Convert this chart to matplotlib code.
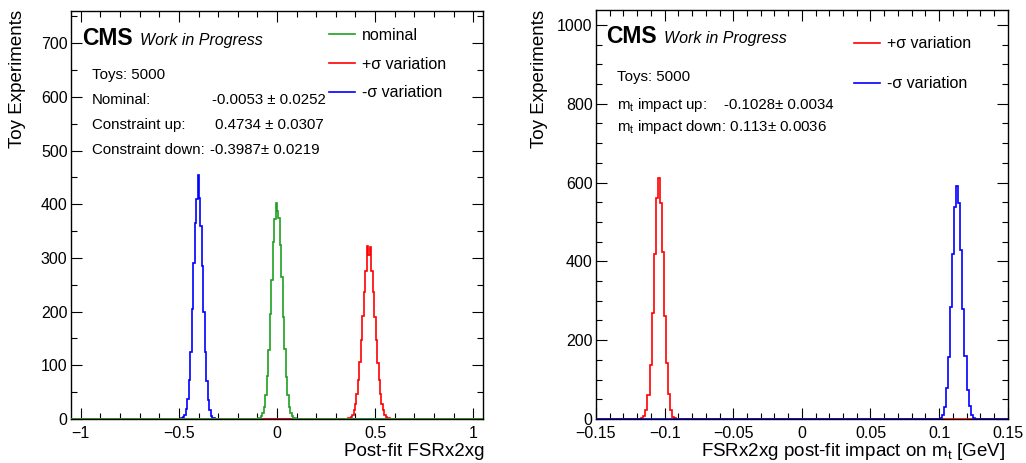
import numpy as np
import matplotlib
matplotlib.use("Agg")
import matplotlib.pyplot as plt
from matplotlib.lines import Line2D

plt.rcParams['font.family'] = ['Liberation Sans', 'DejaVu Sans']
plt.rcParams['mathtext.default'] = 'regular'

# ---------------- left panel: post-fit value of the FSRx2xg parameter ----------------
pull_range = (-1.05, 1.05)
pull_bin_width = 0.0075
pull_ticks = [-1, -0.5, 0, 0.5, 1]
pull_tick_labels = ["\u22121", "\u22120.5", "0", "0.5", "1"]
pull_yticks = [0, 100, 200, 300, 400, 500, 600, 700]
pull_ymax = 760

nominal_start = -0.0975
nominal_counts = [1, 2, 5, 11, 22, 45, 80, 128, 195, 258, 330, 372, 402, 388,
                  375, 325, 265, 190, 130, 78, 44, 22, 11, 5, 2, 1]
up_start = 0.36
up_counts = [1, 2, 4, 8, 16, 28, 46, 72, 106, 147, 192, 237, 275, 322, 305,
             320, 275, 237, 190, 148, 104, 72, 46, 28, 16, 8, 4, 2, 1]
down_start = -0.4875
down_counts = [1, 3, 7, 18, 38, 72, 125, 205, 290, 365, 410, 455, 412, 360,
               285, 200, 125, 70, 36, 16, 6, 2, 1]

pull_summary = [("Nominal:", "-0.0053 \u00b1 0.0252"),
                ("Constraint up:", "0.4734 \u00b1 0.0307"),
                ("Constraint down:", "-0.3987\u00b1 0.0219")]

# ---------------- right panel: impact on the top mass ----------------
impact_range = (-0.15, 0.15)
impact_bin_width = 0.0015
impact_ticks = [-0.15, -0.1, -0.05, 0, 0.05, 0.1, 0.15]
impact_tick_labels = ["\u22120.15", "\u22120.1", "\u22120.05", "0", "0.05", "0.1", "0.15"]
impact_yticks = [0, 200, 400, 600, 800, 1000]
impact_ymax = 1038

impact_up_start = -0.117
impact_up_counts = [2, 7, 24, 60, 138, 270, 418, 560, 612, 548, 425, 262, 143,
                    64, 22, 6, 2]
impact_down_start = 0.099
impact_down_counts = [1, 3, 10, 30, 78, 158, 285, 420, 538, 592, 548, 428, 278,
                      160, 74, 32, 11, 3, 1]

n_toys = 5000

GREEN = "#1f9f1f"
RED = "#ff0000"
BLUE = "#0000ff"

W, H = 1026, 463


def full_hist(lo, hi, bw, start, counts):
    nbins = int(round((hi - lo) / bw))
    edges = np.linspace(lo, hi, nbins + 1)
    values = np.zeros(nbins)
    i0 = int(round((start - lo) / bw))
    values[i0:i0 + len(counts)] = counts
    return edges, values


def style_axes(ax):
    for s in ax.spines.values():
        s.set_linewidth(1.0)
    ax.tick_params(which='both', direction='in', top=True, right=True,
                   labelsize=11.5, width=0.8)
    ax.tick_params(which='major', length=8)
    ax.tick_params(which='minor', length=4)
    ax.tick_params(axis='x', pad=5)
    ax.tick_params(axis='y', pad=2.5)


def px(x, y):
    return x / W, 1 - y / H


fig = plt.figure(figsize=(W / 100, H / 100), dpi=100)

# ---- left axes ----
axL = fig.add_axes([71 / W, 44 / H, 412 / W, 408 / H])
for start, counts, color in [(down_start, down_counts, BLUE),
                             (up_start, up_counts, RED),
                             (nominal_start, nominal_counts, GREEN)]:
    e, v = full_hist(*pull_range, pull_bin_width, start, counts)
    axL.stairs(v, e, color=color, lw=1.2, zorder=3)
axL.set_xlim(*pull_range)
axL.set_ylim(0, pull_ymax)
axL.set_xticks(pull_ticks)
axL.set_xticklabels(pull_tick_labels)
axL.set_xticks(np.arange(-1.0, 1.01, 0.1), minor=True)
axL.set_yticks(pull_yticks)
axL.set_yticks(np.arange(0, pull_ymax, 50), minor=True)
style_axes(axL)

handlesL = [Line2D([], [], color=GREEN, lw=1.2),
            Line2D([], [], color=RED, lw=1.2),
            Line2D([], [], color=BLUE, lw=1.2)]
fig.legend(handlesL, ["nominal", "+\u03c3 variation", "-\u03c3 variation"],
           loc='upper left', bbox_to_anchor=px(329, 28), frameon=False,
           fontsize=11.5, handlelength=1.63, handletextpad=0.45,
           labelspacing=0.86, borderpad=0, borderaxespad=0)

fig.text(*px(81.7, 45), "CMS", fontsize=16.5, fontweight='bold', va='baseline')
fig.text(*px(140, 45), "Work in Progress", fontsize=11.5, style='italic', va='baseline')
fig.text(*px(91.7, 79), f"Toys: {n_toys}", fontsize=10.8, va='baseline')
value_x = [212.3, 215, 210]
for i, (name, val) in enumerate(pull_summary):
    yb = 104 + 25 * i
    fig.text(*px(91.7, yb), name, fontsize=10.8, va='baseline')
    fig.text(*px(value_x[i], yb), val, fontsize=10.8, va='baseline')

fig.text(*px(17.5, 10), "Toy Experiments", rotation=90, ha='center', va='top',
         fontsize=13.5)
fig.text(*px(484, 456), "Post-fit FSRx2xg", ha='right', va='baseline', fontsize=13.5)

# ---- right axes ----
axR = fig.add_axes([596 / W, 44 / H, 411.7 / W, 409 / H])
for start, counts, color in [(impact_up_start, impact_up_counts, RED),
                             (impact_down_start, impact_down_counts, BLUE)]:
    e, v = full_hist(*impact_range, impact_bin_width, start, counts)
    axR.stairs(v, e, color=color, lw=1.2, zorder=3)
axR.set_xlim(*impact_range)
axR.set_ylim(0, impact_ymax)
axR.set_xticks(impact_ticks)
axR.set_xticklabels(impact_tick_labels)
axR.set_xticks(np.arange(-0.15, 0.1501, 0.01), minor=True)
axR.set_yticks(impact_yticks)
axR.set_yticks(np.arange(0, impact_ymax, 50), minor=True)
style_axes(axR)

handlesR = [Line2D([], [], color=RED, lw=1.2),
            Line2D([], [], color=BLUE, lw=1.2)]
fig.legend(handlesR, ["+\u03c3 variation", "-\u03c3 variation"],
           loc='upper left', bbox_to_anchor=px(854, 36.5), frameon=False,
           fontsize=11.5, handlelength=1.63, handletextpad=0.45,
           labelspacing=1.54, borderpad=0, borderaxespad=0)

fig.text(*px(606, 43.3), "CMS", fontsize=16.5, fontweight='bold', va='baseline')
fig.text(*px(664, 43.3), "Work in Progress", fontsize=11.5, style='italic', va='baseline')
fig.text(*px(616.7, 81.5), f"Toys: {n_toys}", fontsize=10.8, va='baseline')
fig.text(*px(616.7, 109), "m$_{t}$ impact up:", fontsize=10.8, va='baseline')
fig.text(*px(724, 109), "-0.1028\u00b1 0.0034", fontsize=10.8, va='baseline')
fig.text(*px(616.7, 131.5), "m$_{t}$ impact down: 0.113\u00b1 0.0036", fontsize=10.8,
         va='baseline')

fig.text(*px(540, 10), "Toy Experiments", rotation=90, ha='center', va='top',
         fontsize=13.5)
fig.text(*px(1005, 456), "FSRx2xg post-fit impact on m$_{t}$ [GeV]", ha='right',
         va='baseline', fontsize=13.5)

fig.savefig("out.png", dpi=100)
